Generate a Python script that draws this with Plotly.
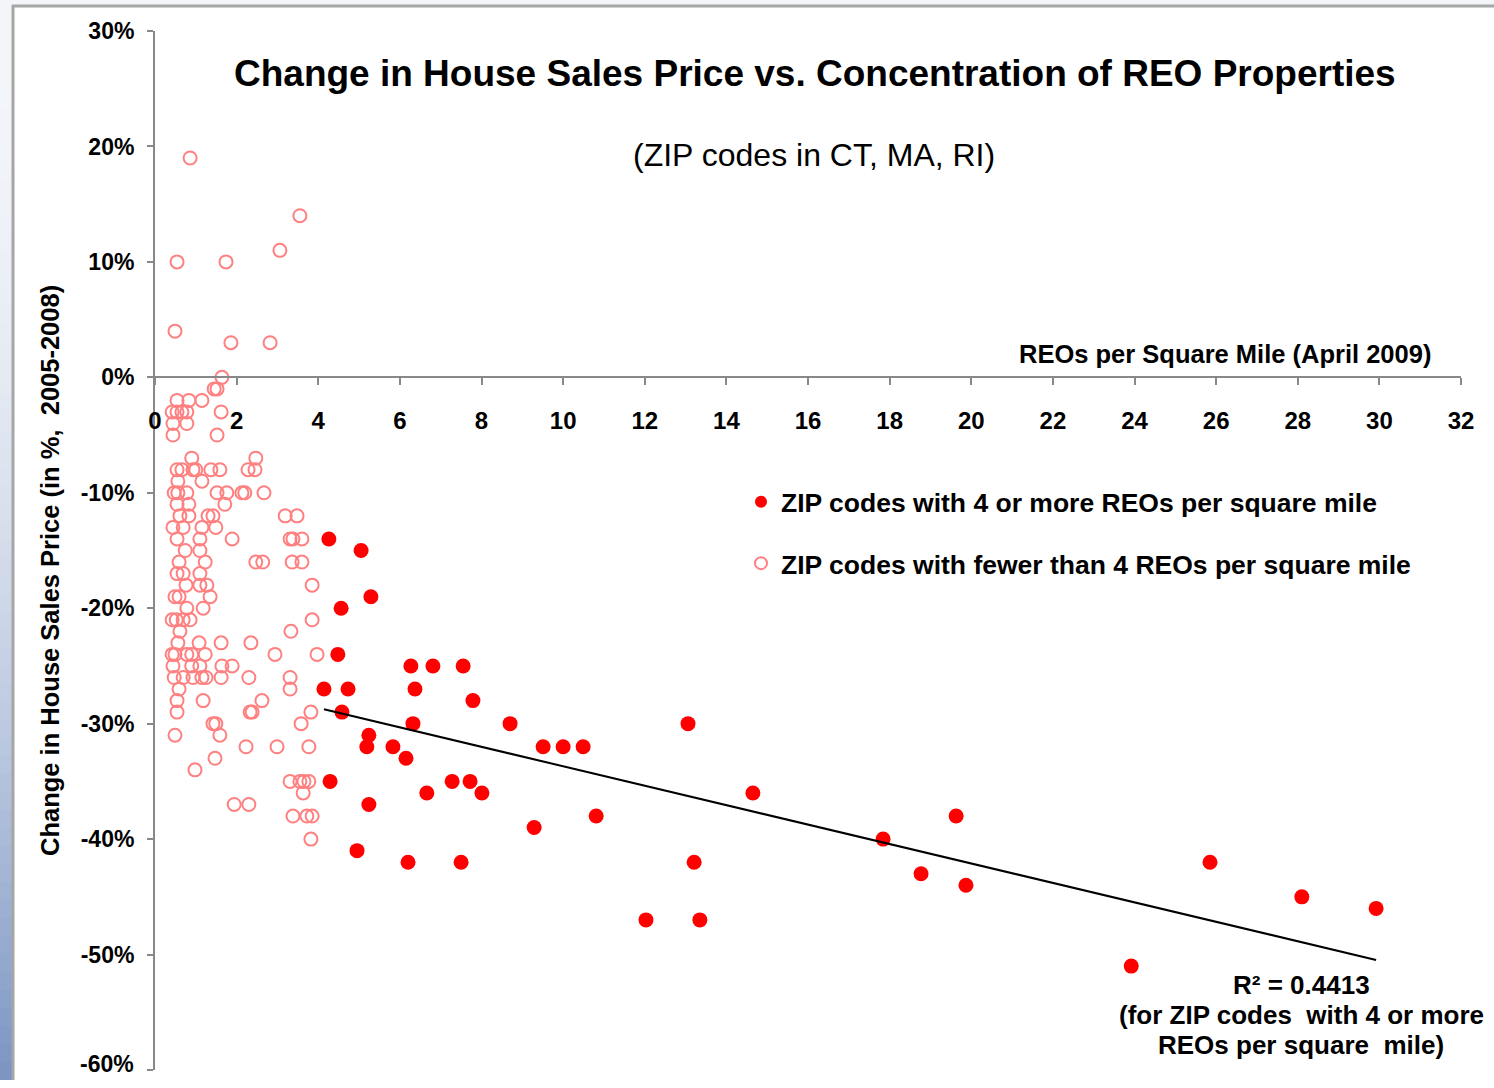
import numpy as np
import plotly.graph_objects as go

# ---------------- data ----------------
# ZIP codes with 4 or more REOs per square mile
hi_x = [4.26, 5.05, 4.56, 5.29, 4.48, 6.27, 6.81, 7.55, 4.14, 4.73,
        6.37, 7.79, 4.58, 8.70, 6.32, 13.06, 5.24, 5.19, 5.83, 9.51,
        10.0, 10.49, 6.15, 4.29, 7.28, 7.72, 6.66, 8.01, 14.65, 5.24,
        9.29, 10.81, 19.63, 17.84, 4.95, 6.20, 7.50, 13.21, 25.85, 18.77,
        19.87, 28.10, 29.92, 12.03, 13.35, 23.92]
hi_y = [-14, -15, -20, -19, -24, -25, -25, -25, -27, -27,
        -27, -28, -29, -30, -30, -30, -31, -32, -32, -32,
        -32, -32, -33, -35, -35, -35, -36, -36, -36, -37,
        -39, -38, -38, -40, -41, -42, -42, -42, -42, -43,
        -44, -45, -46, -47, -47, -51]

# ZIP codes with fewer than 4 REOs per square mile
lo_x = [0.86, 3.55, 3.06, 0.54, 1.74, 0.49, 1.86, 2.82, 1.64, 1.45, 1.52,
        0.54, 0.83, 1.15,
        0.42, 0.54, 0.66, 0.78, 1.62,
        0.44, 0.78, 0.44, 1.52,
        0.90, 2.47,
        0.54, 0.66, 0.93, 1.00, 1.37, 1.59, 2.28, 2.45,
        0.56, 1.15,
        0.47, 0.56, 0.78, 1.52, 1.76, 2.13, 2.20, 2.67,
        0.54, 0.83, 1.71,
        0.61, 0.83, 1.30, 1.42, 3.19, 3.48,
        0.44, 0.69, 1.15, 1.49,
        0.54, 1.10, 1.89, 3.31, 3.38, 3.60,
        0.74, 1.10,
        0.59, 1.23, 2.47, 2.64, 3.36, 3.60,
        0.54, 0.69, 1.10,
        0.76, 1.10, 1.27, 3.85,
        0.49, 0.59, 1.35,
        0.78, 1.18,
        0.42, 0.52, 0.69, 0.86, 3.85,
        0.61, 3.33,
        0.56, 1.08, 1.62, 2.35,
        0.42, 0.49, 0.78, 0.90, 1.23, 2.94, 3.97,
        0.44, 0.90, 1.10, 1.64, 1.89,
        0.47, 0.69, 0.93, 1.15, 1.25, 1.62, 2.30, 3.31,
        0.59, 3.31,
        0.54, 1.18, 2.62,
        0.54, 2.33, 2.38, 3.82,
        1.42, 1.49, 3.58,
        0.49, 1.59,
        2.23, 2.99, 3.77,
        1.47,
        0.98,
        3.31, 3.55, 3.65, 3.77,
        3.63,
        1.94, 2.30,
        3.38, 3.72, 3.85,
        3.82]
lo_y = [19, 14, 11, 10, 10, 4, 3, 3, 0, -1, -1,
        -2, -2, -2,
        -3, -3, -3, -3, -3,
        -4, -4, -5, -5,
        -7, -7,
        -8, -8, -8, -8, -8, -8, -8, -8,
        -9, -9,
        -10, -10, -10, -10, -10, -10, -10, -10,
        -11, -11, -11,
        -12, -12, -12, -12, -12, -12,
        -13, -13, -13, -13,
        -14, -14, -14, -14, -14, -14,
        -15, -15,
        -16, -16, -16, -16, -16, -16,
        -17, -17, -17,
        -18, -18, -18, -18,
        -19, -19, -19,
        -20, -20,
        -21, -21, -21, -21, -21,
        -22, -22,
        -23, -23, -23, -23,
        -24, -24, -24, -24, -24, -24, -24,
        -25, -25, -25, -25, -25,
        -26, -26, -26, -26, -26, -26, -26, -26,
        -27, -27,
        -28, -28, -28,
        -29, -29, -29, -29,
        -30, -30, -30,
        -31, -31,
        -32, -32, -32,
        -33,
        -34,
        -35, -35, -35, -35,
        -36,
        -37, -37,
        -38, -38, -38,
        -40]

x_ticks = list(range(0, 33, 2))
y_ticks = list(range(-60, 31, 10))
y_labels = [f"{v}%" for v in y_ticks]

title_text = "Change in House Sales Price vs. Concentration of REO Properties"
subtitle_text = "(ZIP codes in CT, MA, RI)"
x_title = "REOs per Square Mile (April 2009)"
y_title = "Change in House Sales Price (in %,  2005-2008)"
legend_hi = "ZIP codes with 4 or more REOs per square mile"
legend_lo = "ZIP codes with fewer than 4 REOs per square mile"
r2_lines = ["R² = 0.4413", "(for ZIP codes  with 4 or more", "REOs per square  mile)"]

# ---------------- figure ----------------
FONT = "Liberation Sans, Arial, sans-serif"
W, H = 1494, 1080
L, R, T, B = 155, 33, 31, 10
PW, PH = W - L - R, H - T - B


def px(xpix):
    return (xpix - L) / PW


def py(ypix):
    return (H - B - ypix) / PH


fig = go.Figure()

fig.add_trace(go.Scatter(
    x=lo_x, y=lo_y, mode="markers", name=legend_lo,
    marker=dict(symbol="circle-open", size=13, color="rgb(255,128,128)",
                line=dict(width=2, color="rgb(255,128,128)")),
    legendrank=2, legendgroup="lo"))

fig.add_trace(go.Scatter(
    x=hi_x, y=hi_y, mode="markers", name=legend_hi,
    marker=dict(symbol="circle", size=15, color="#FF0000",
                line=dict(width=0)),
    legendrank=1, legendgroup="hi"))

# linear trend line for the 4+ group
coef = np.polyfit(hi_x, hi_y, 1)
tx = [min(hi_x), max(hi_x)]
ty = list(np.polyval(coef, tx))
fig.add_trace(go.Scatter(x=tx, y=ty, mode="lines", showlegend=False,
                         line=dict(color="black", width=2), hoverinfo="skip"))

shapes = []
# left gradient strip
n = 60
c0 = np.array([244, 246, 250])
c1 = np.array([122, 148, 194])
for i in range(n):
    y0 = i * H / n
    y1 = (i + 1) * H / n
    t = ((i + 0.5) / n) ** 2
    c = (c0 + (c1 - c0) * t).astype(int)
    shapes.append(dict(type="rect", xref="paper", yref="paper",
                       x0=px(0), x1=px(12), y0=py(y1), y1=py(y0),
                       fillcolor=f"rgb({c[0]},{c[1]},{c[2]})",
                       line=dict(width=0), layer="below"))
# top strip
shapes.append(dict(type="rect", xref="paper", yref="paper",
                   x0=px(12), x1=px(W), y0=py(5), y1=py(0),
                   fillcolor="#f3f5f9", line=dict(width=0), layer="below"))
# frame lines
shapes.append(dict(type="line", xref="paper", yref="paper",
                   x0=px(13), x1=px(13), y0=py(H), y1=py(5),
                   line=dict(color="#a6a6a6", width=3)))
shapes.append(dict(type="line", xref="paper", yref="paper",
                   x0=px(12), x1=px(W), y0=py(6), y1=py(6),
                   line=dict(color="#a6a6a6", width=3)))

annotations = [
    dict(text=f"<b>{title_text}</b>", x=px(815), y=py(74), xref="paper", yref="paper",
         showarrow=False, font=dict(family=FONT, size=37, color="black"),
         xanchor="center", yanchor="middle"),
    dict(text=subtitle_text, x=px(814), y=py(155), xref="paper", yref="paper",
         showarrow=False, font=dict(family=FONT, size=32, color="black"),
         xanchor="center", yanchor="middle"),
    dict(text=f"<b>{x_title}</b>", x=px(1433), y=py(354), xref="paper", yref="paper",
         showarrow=False, font=dict(family=FONT, size=25.5, color="black"),
         xanchor="right", yanchor="middle"),
    dict(text=f"<b>{y_title}</b>", x=px(50), y=py(571), xref="paper", yref="paper",
         showarrow=False, textangle=-90, font=dict(family=FONT, size=25.5, color="black"),
         xanchor="center", yanchor="middle"),
    # bottom tick label drawn as annotation so it stays inside the page
    dict(text=f"<b>{y_labels[0]}</b>", x=px(135), y=y_ticks[0], xref="paper", yref="y",
         showarrow=False, font=dict(family=FONT, size=23, color="black"),
         xanchor="right", yanchor="middle", borderpad=0, yshift=6),
]
for k, (line, ypix) in enumerate(zip(r2_lines, [985, 1015, 1045])):
    annotations.append(dict(text=f"<b>{line}</b>", x=px(1301), y=py(ypix),
                            xref="paper", yref="paper", showarrow=False,
                            font=dict(family=FONT, size=26, color="black"),
                            xanchor="center", yanchor="middle"))

fig.update_layout(
    width=W, height=H,
    margin=dict(l=L, r=R, t=T, b=B, pad=0),
    paper_bgcolor="white", plot_bgcolor="rgba(0,0,0,0)",
    font=dict(family=FONT, color="black"),
    shapes=shapes, annotations=annotations,
    showlegend=True,
    legend=dict(x=px(741), y=py(478), xanchor="left", yanchor="top",
                bgcolor="rgba(0,0,0,0)", borderwidth=0,
                font=dict(family=FONT, size=26.5, color="black", weight="bold"),
                traceorder="grouped", tracegroupgap=24, itemsizing="constant"),
    xaxis=dict(range=[0, 32], tickvals=x_ticks, ticktext=[str(v) for v in x_ticks],
               showgrid=False, zeroline=False, showline=True, linecolor="#888888",
               linewidth=2, ticks="outside", ticklen=7, tickcolor="#888888", tickwidth=2,
               anchor="free", position=60 / 90, ticklabelstandoff=15,
               tickfont=dict(family=FONT, size=24, color="black", weight="bold")),
    yaxis=dict(range=[-60, 30], tickvals=y_ticks, ticktext=[""] + y_labels[1:],
               showgrid=False, zeroline=False, showline=True, linecolor="#888888",
               linewidth=2, ticks="outside", ticklen=6, tickcolor="#888888", tickwidth=2,
               ticklabelstandoff=8,
               tickfont=dict(family=FONT, size=23, color="black", weight="bold")),
)

fig.write_html("out.html", config={"displayModeBar": False},
               post_script="document.body.style.margin='0';")
